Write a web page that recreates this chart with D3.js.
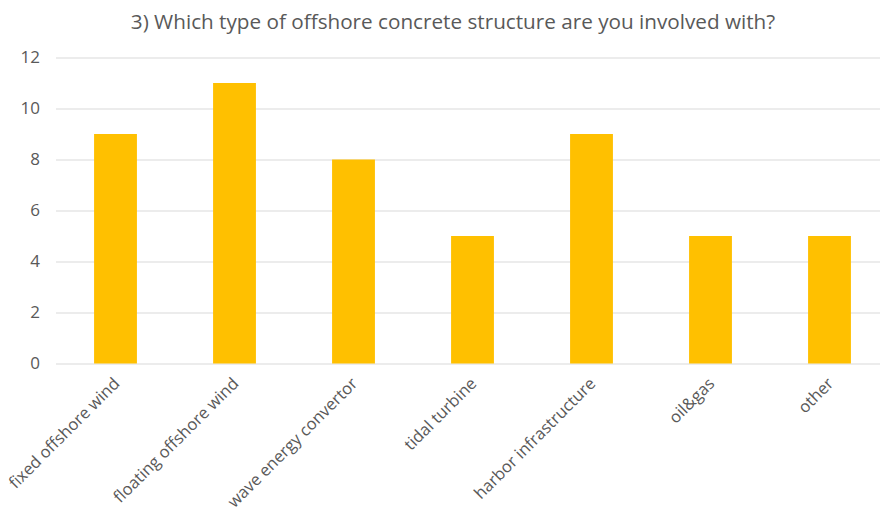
<!DOCTYPE html>
<html>
<head>
<meta charset="utf-8">
<script src="https://cdn.jsdelivr.net/npm/d3@7"></script>
<style>
  html, body { margin: 0; padding: 0; background: #fff; }
  svg { display: block; }
  text { font-family: "Open Sans", "Noto Sans", sans-serif; fill: #595959; }
</style>
</head>
<body>
<svg id="chart" width="880" height="509"></svg>
<script>
// Survey responses per structure type
const categories = [
  "fixed offshore wind",
  "floating offshore wind",
  "wave energy convertor",
  "tidal turbine",
  "harbor infrastructure",
  "oil&gas",
  "other"
];
const counts = [9, 11, 8, 5, 9, 5, 5];
const yTicks = [0, 2, 4, 6, 8, 10, 12];
const title = "3) Which type of offshore concrete structure are you involved with?";

const svg = d3.select("#chart");
const plot = { left: 56, right: 889, top: 57.5, bottom: 363.5 };

const x = d3.scaleBand()
  .domain(categories)
  .range([plot.left, plot.right])
  .paddingInner(0.64)
  .paddingOuter(0.32);

const y = d3.scaleLinear()
  .domain([0, 12])
  .range([plot.bottom, plot.top]);

// Horizontal gridlines and value labels
const yAxis = d3.axisLeft(y)
  .tickValues(yTicks)
  .tickSize(-(plot.right - plot.left))
  .tickPadding(16);

svg.append("g")
  .attr("transform", `translate(${plot.left},0)`)
  .call(yAxis)
  .call(g => g.select(".domain").remove())
  .call(g => g.selectAll(".tick line").attr("stroke", "#d9d9d9").attr("stroke-width", 1))
  .call(g => g.selectAll(".tick text")
    .attr("fill", "#595959")
    .style("font-family", "\"Open Sans\", sans-serif")
    .style("font-size", "17px"));

// Bars
svg.append("g")
  .selectAll("rect")
  .data(categories)
  .join("rect")
  .attr("x", d => x(d))
  .attr("width", x.bandwidth())
  .attr("y", (d, i) => y(counts[i]))
  .attr("height", (d, i) => y(0) - y(counts[i]))
  .attr("fill", "#ffc000");

// Rotated category labels (long ones run off the bottom edge)
svg.append("g")
  .selectAll("text")
  .data(categories)
  .join("text")
  .attr("transform", d => `translate(${x(d) + x.bandwidth() / 2 + 1},${plot.bottom + 17}) rotate(-45)`)
  .attr("text-anchor", "end")
  .attr("dy", "0.35em")
  .style("font-size", "16.5px")
  .text(d => d);

// Title
svg.append("text")
  .attr("x", 453)
  .attr("y", 29)
  .attr("text-anchor", "middle")
  .style("font-size", "20.7px")
  .text(title);
</script>
</body>
</html>
